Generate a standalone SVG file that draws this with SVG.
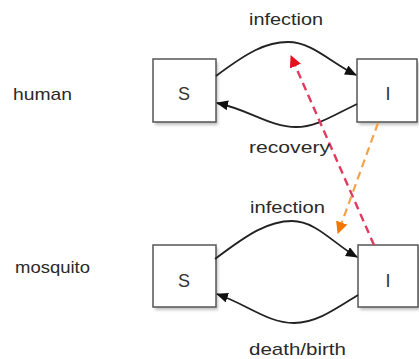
<svg xmlns="http://www.w3.org/2000/svg" width="419" height="359" viewBox="0 0 419 359">
  <style>
    .box { fill: #ffffff; stroke: #555555; stroke-width: 1.5; }
    .shadow { fill: #9a9a9a; opacity: 0.6; filter: url(#soft); }
    .lbl { font-family: "Liberation Sans", Arial, Helvetica, sans-serif; font-size: 17px; fill: #2a2a2a; }
    .state { font-family: "Liberation Sans", Arial, Helvetica, sans-serif; font-size: 18px; fill: #333333; text-anchor: middle; }
    .flow { fill: none; stroke: #222222; stroke-width: 1.8; }
    .bite-red { fill: none; stroke: #e03a60; stroke-width: 2.4; stroke-dasharray: 8 5; }
    .bite-orange { fill: none; stroke: #f5a24a; stroke-width: 2.2; stroke-dasharray: 8 5; }
  </style>
  <defs>
    <filter id="soft" x="-20%" y="-20%" width="140%" height="140%">
      <feGaussianBlur stdDeviation="1.5"/>
    </filter>
    <marker id="ah" markerWidth="12" markerHeight="10" refX="11" refY="5" orient="auto" markerUnits="userSpaceOnUse">
      <path d="M0,0 L12,5 L0,10 z" fill="#111111"/>
    </marker>
    <marker id="ah-red" markerWidth="12" markerHeight="12" refX="11" refY="6" orient="auto" markerUnits="userSpaceOnUse">
      <path d="M0,0 L12,6 L0,12 z" fill="#e8101e"/>
    </marker>
    <marker id="ah-orange" markerWidth="12" markerHeight="12" refX="11" refY="6" orient="auto" markerUnits="userSpaceOnUse">
      <path d="M0,0 L12,6 L0,12 z" fill="#f07800"/>
    </marker>
  </defs>

  <rect width="419" height="359" fill="#ffffff"/>

  <!-- row labels -->
  <text class="lbl" x="13" y="100" textLength="59" lengthAdjust="spacingAndGlyphs">human</text>
  <text class="lbl" x="15" y="273" textLength="75" lengthAdjust="spacingAndGlyphs">mosquito</text>

  <!-- human compartments -->
  <g id="human-S">
    <rect class="shadow" x="155" y="62" width="63" height="63"/>
    <rect class="box" x="153" y="59" width="63" height="63"/>
    <text class="state" x="184" y="100">S</text>
  </g>
  <g id="human-I">
    <rect class="shadow" x="359" y="62" width="60" height="63"/>
    <rect class="box" x="357" y="59" width="60" height="63"/>
    <text class="state" x="388" y="100">I</text>
  </g>

  <!-- mosquito compartments -->
  <g id="mosquito-S">
    <rect class="shadow" x="155" y="248" width="63" height="62"/>
    <rect class="box" x="153" y="245" width="63" height="62"/>
    <text class="state" x="184" y="287">S</text>
  </g>
  <g id="mosquito-I">
    <rect class="shadow" x="360" y="248" width="60" height="62"/>
    <rect class="box" x="358" y="245" width="60" height="62"/>
    <text class="state" x="388" y="287">I</text>
  </g>

  <!-- transitions and cross-species transmission -->
  <g id="connectors">
    <path class="flow" marker-end="url(#ah)" d="M216,76 C248,52 266,42 288,42 C312,42 330,62 356,75"/>
    <path class="flow" marker-end="url(#ah)" d="M357,104 C332,116 316,127 296,127 C270,127 250,110 217,103"/>
    <path class="flow" marker-end="url(#ah)" d="M215,259 C248,234 268,221 292,221 C316,221 334,244 357,257"/>
    <path class="flow" marker-end="url(#ah)" d="M358,295 C334,310 316,323 294,323 C268,323 248,305 217,294"/>

    <path class="bite-red" marker-end="url(#ah-red)" d="M374,245 L291,56"/>
    <path class="bite-orange" marker-end="url(#ah-orange)" d="M378,123 L338,233"/>
  </g>

  <!-- transition labels -->
  <text class="lbl" x="249" y="25" textLength="74" lengthAdjust="spacingAndGlyphs">infection</text>
  <text class="lbl" x="249" y="153" textLength="81" lengthAdjust="spacingAndGlyphs">recovery</text>
  <text class="lbl" x="250" y="213" textLength="75" lengthAdjust="spacingAndGlyphs">infection</text>
  <text class="lbl" x="249" y="355" textLength="97" lengthAdjust="spacingAndGlyphs">death/birth</text>
</svg>
